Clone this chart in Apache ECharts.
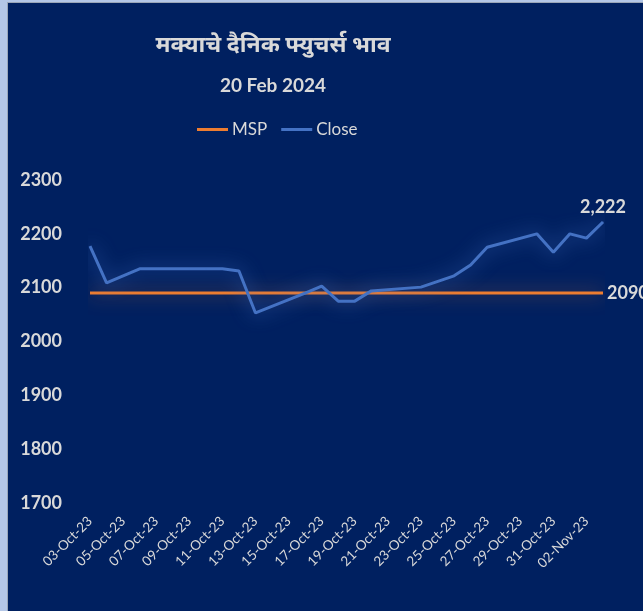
<!DOCTYPE html>
<html>
<head>
<meta charset="utf-8">
<style>
  html, body { margin: 0; padding: 0; background: #b4c7e7; }
  #chart { width: 643px; height: 611px; }
</style>
<script src="https://cdn.jsdelivr.net/npm/echarts@6/dist/echarts.min.js"></script>
</head>
<body>
<div id="chart"></div>
<script>
const titleText = 'मक्याचे दैनिक फ्युचर्स भाव';
const subtitleText = '20 Feb 2024';

const dates = [
  '03-Oct-23','04-Oct-23','05-Oct-23','06-Oct-23','07-Oct-23','08-Oct-23','09-Oct-23','10-Oct-23',
  '11-Oct-23','12-Oct-23','13-Oct-23','14-Oct-23','15-Oct-23','16-Oct-23','17-Oct-23','18-Oct-23',
  '19-Oct-23','20-Oct-23','21-Oct-23','22-Oct-23','23-Oct-23','24-Oct-23','25-Oct-23','26-Oct-23',
  '27-Oct-23','28-Oct-23','29-Oct-23','30-Oct-23','31-Oct-23','01-Nov-23','02-Nov-23','03-Nov-23'
];

const closeValues = [
  2177, 2109, 2122, 2135, null, null, 2135, 2135,
  2135, 2131, 2053, null, null, 2090, 2103, 2075,
  2075, 2094, null, null, 2101, null, 2122, 2142,
  2175, null, null, 2200, 2166, 2200, 2192, 2222
];

const mspValues = [
  2090, 2090, 2090, 2090, 2090, 2090, 2090, 2090,
  2090, 2090, 2090, 2090, 2090, 2090, 2090, 2090,
  2090, 2090, 2090, 2090, 2090, 2090, 2090, 2090,
  2090, 2090, 2090, 2090, 2090, 2090, 2090, 2090
];

const yMin = 1700, yMax = 2300, yStep = 100;

const txt = '#d9d9d9';
const font = 'Lato, "Noto Sans", "DejaVu Sans", sans-serif';
const lastIdx = dates.length - 1;

const chart = echarts.init(document.getElementById('chart'), null, { renderer: 'canvas' });
chart.setOption({
  backgroundColor: '#b4c7e7',
  animation: false,
  graphic: [
    { type: 'rect', left: 7, top: 2, shape: { width: 640, height: 615 }, style: { fill: '#9aa6b8' }, z: -10 },
    { type: 'rect', left: 8, top: 3, shape: { width: 640, height: 615 }, style: { fill: '#002060' }, z: -9 }
  ],
  title: [
    { text: titleText, left: 268, top: 28, textAlign: 'center',
      textStyle: { color: txt, fontSize: 23, fontWeight: 'bold', fontFamily: font } },
    { text: subtitleText, left: 268, top: 71, textAlign: 'center',
      textStyle: { color: txt, fontSize: 19, fontWeight: 'bold', fontFamily: font } }
  ],
  legend: {
    left: 192, top: 116,
    itemWidth: 31, itemHeight: 3, itemGap: 14,
    textStyle: { color: txt, fontSize: 17, fontFamily: font, padding: [0, 0, 0, -1] },
    data: [
      { name: 'MSP', icon: 'rect', itemStyle: { color: '#ed7d31', opacity: 1 } },
      { name: 'Close', icon: 'rect', itemStyle: { color: '#4472c4', opacity: 1 } }
    ]
  },
  grid: { left: 90, right: 40, top: 180, bottom: 108 },
  xAxis: {
    type: 'category',
    data: dates,
    boundaryGap: false,
    axisLine: { show: false },
    axisTick: { show: false },
    splitLine: { show: false },
    axisLabel: {
      interval: 1, rotate: 45, margin: 16,
      color: txt, fontSize: 13.5, fontFamily: font
    }
  },
  yAxis: {
    type: 'value',
    min: yMin, max: yMax, interval: yStep,
    axisLine: { show: false },
    axisTick: { show: false },
    splitLine: { show: false },
    axisLabel: { color: txt, fontSize: 18, fontWeight: 'bold', fontFamily: font, margin: 28,
      formatter: v => String(v) }
  },
  series: [
    {
      name: 'MSP', type: 'line', data: mspValues,
      showSymbol: false, symbol: 'none',
      color: '#ed7d31',
      lineStyle: { width: 3, color: '#ed7d31', shadowBlur: 18, shadowColor: 'rgba(237,125,49,0.6)' },
      endLabel: {
        show: true, distance: 4, color: txt, fontSize: 18, fontWeight: 'bold', fontFamily: font,
        formatter: p => String(p.value)
      },
      z: 2
    },
    {
      name: 'Close', type: 'line', data: closeValues, connectNulls: true,
      symbol: 'circle', symbolSize: 1, showSymbol: true,
      color: '#4472c4',
      lineStyle: { width: 3, color: '#4472c4', shadowBlur: 18, shadowColor: 'rgba(68,114,196,0.9)' },
      itemStyle: { color: '#4472c4' },
      label: {
        show: true, position: 'top', distance: 5, color: txt, fontSize: 18, fontWeight: 'bold', fontFamily: font,
        formatter: p => p.dataIndex === lastIdx ? p.value.toLocaleString('en-US') : ''
      },
      z: 3
    }
  ]
});
</script>
</body>
</html>
